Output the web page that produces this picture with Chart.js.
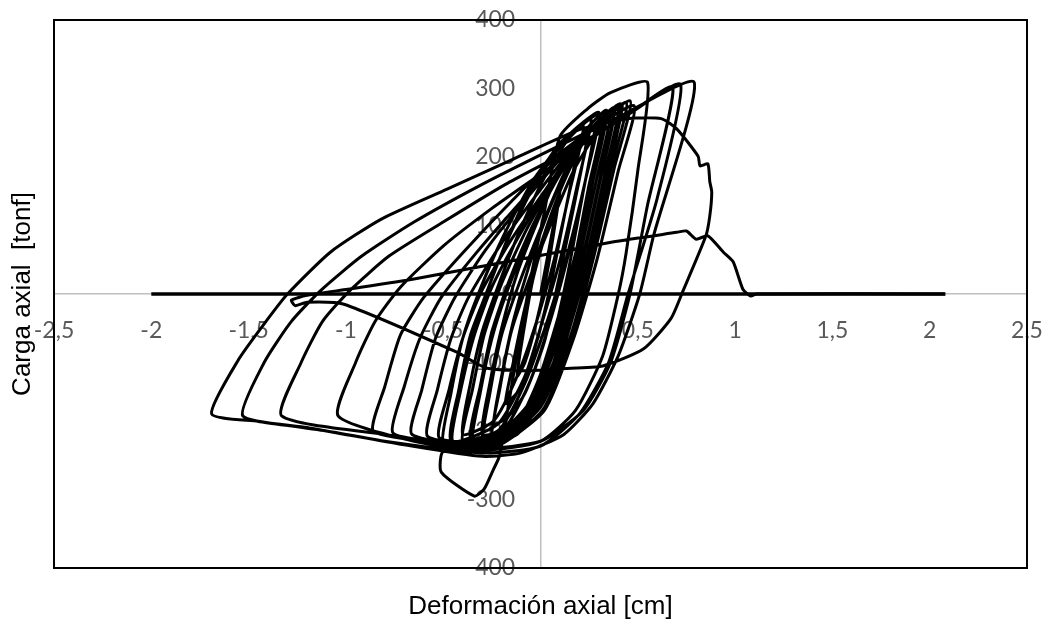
<!DOCTYPE html>
<html>
<head>
<meta charset="utf-8">
<script src="https://cdn.jsdelivr.net/npm/chart.js@4.4.1/dist/chart.umd.min.js"></script>
<style>
  html, body { margin: 0; padding: 0; background: #fff; }
</style>
</head>
<body>
<canvas id="chart" width="1047" height="627"></canvas>
<script>
// ciclos chicos (zona densa central) - deformacion [cm] / carga [tonf]
var chicosDef = [0, 0.04, 0.10, 0.04, -0.02, -0.08, -0.12,
  -0.09, -0.04, 0.04, 0.12, 0.18, 0.12, 0.05, -0.03, -0.11, -0.18,
  -0.14, -0.08, 0.0, 0.10, 0.18, 0.24, 0.18, 0.10, 0.02, -0.08, -0.17, -0.24,
  -0.20, -0.14, -0.06, 0.04, 0.14, 0.22, 0.28, 0.22, 0.14, 0.05, -0.06, -0.18, -0.30,
  -0.26, -0.20, -0.12, -0.01, 0.10, 0.22, 0.32, 0.25, 0.16, 0.06, -0.06, -0.20, -0.36,
  -0.31, -0.25, -0.16, -0.04, 0.09, 0.22, 0.34, 0.27, 0.18, 0.07, -0.05, -0.20, -0.40,
  -0.35, -0.29, -0.20, -0.07, 0.07, 0.22, 0.36, 0.29, 0.19, 0.08, -0.05, -0.22, -0.46];
var chicosCarga = [0, 60, 150, 40, -40, -100, -120,
  -60, 20, 100, 165, 200, 110, 10, -80, -140, -160,
  -100, -20, 70, 150, 200, 230, 140, 30, -70, -145, -180, -190,
  -120, -40, 40, 120, 185, 225, 245, 150, 30, -80, -160, -198, -205,
  -130, -50, 30, 110, 180, 228, 255, 160, 30, -80, -160, -200, -210,
  -135, -55, 20, 100, 170, 225, 262, 165, 40, -75, -160, -205, -215,
  -140, -60, 15, 95, 165, 225, 266, 170, 40, -75, -165, -210, -215];

// ciclos repetidos de amplitud media
var repetidosDef = [-0.42, -0.36, -0.28, -0.17, -0.04, 0.10, 0.22,
  0.15, 0.07, -0.02, -0.12, -0.24, -0.40,
  -0.36, -0.30, -0.22, -0.11, 0.02, 0.14, 0.26,
  0.19, 0.11, 0.02, -0.08, -0.22, -0.45,
  -0.41, -0.35, -0.28, -0.16, -0.02, 0.14, 0.30,
  0.23, 0.15, 0.06, -0.05, -0.18, -0.35,
  -0.31, -0.25, -0.17, -0.05, 0.08, 0.21, 0.34,
  0.27, 0.19, 0.10, -0.01, -0.14, -0.30,
  -0.26, -0.20, -0.11, 0.00, 0.12, 0.25, 0.38,
  0.31, 0.23, 0.14, 0.03, -0.10, -0.25,
  -0.21, -0.15, -0.06, 0.05, 0.17, 0.30, 0.42,
  0.35, 0.27, 0.17, 0.05, -0.12, -0.30, -0.50,
  -0.46, -0.40, -0.32, -0.19, -0.04, 0.13, 0.30,
  0.23, 0.14, 0.04, -0.08, -0.22, -0.46];
var repetidosCarga = [-140, -60, 0, 80, 160, 220, 245,
  150, 50, -40, -120, -185, -205,
  -130, -55, 10, 90, 170, 225, 255,
  160, 60, -30, -120, -190, -215,
  -140, -60, 0, 85, 165, 230, 262,
  165, 65, -30, -125, -195, -220,
  -145, -65, 5, 90, 170, 232, 268,
  170, 70, -25, -125, -200, -225,
  -145, -60, 15, 95, 175, 238, 272,
  175, 70, -30, -130, -200, -215,
  -140, -55, 20, 100, 180, 240, 276,
  180, 75, -30, -135, -205, -220, -220,
  -145, -65, 0, 85, 165, 228, 265,
  165, 60, -35, -130, -200, -215];

var crecientesDef = [-0.41, -0.34, -0.25, -0.11, 0.05, 0.22, 0.38,
  0.31, 0.21, 0.10, -0.04, -0.22, -0.52,
  -0.47, -0.40, -0.31, -0.16, 0.02, 0.20, 0.40, 0.33, 0.23, 0.12, -0.02, -0.22, -0.58,
  -0.53, -0.46, -0.37, -0.21, -0.02, 0.18, 0.41, 0.34, 0.24, 0.13, -0.01, -0.22, -0.66,
  -0.61, -0.54, -0.44, -0.28, -0.07, 0.16, 0.44, 0.36, 0.26, 0.15, 0.00, -0.24, -0.55, -0.76,
  -0.70, -0.62, -0.51, -0.33, -0.10, 0.14, 0.46, 0.38, 0.27, 0.16, 0.01, -0.24, -0.60, -0.86,
  -0.80, -0.72, -0.60, -0.40, -0.15, 0.12, 0.48, 0.40, 0.29, 0.17, 0.02, -0.24, -0.50, -0.51,
  -0.34, -0.29, -0.24, -0.21, -0.14, -0.06, 0.02, 0.10, 0.24, 0.36, 0.55];
var crecientesCarga = [-140, -60, 10, 85, 160, 228, 270,
  170, 40, -75, -165, -212, -210,
  -140, -65, 0, 75, 150, 222, 275, 175, 45, -70, -165, -215, -208,
  -140, -65, -5, 70, 145, 218, 278, 180, 50, -65, -165, -218, -205,
  -140, -65, -5, 65, 140, 215, 280, 180, 50, -65, -165, -220, -215, -202,
  -135, -65, -5, 60, 135, 210, 282, 185, 50, -65, -170, -222, -215, -200,
  -135, -60, -5, 60, 135, 210, 275, 180, 50, -65, -170, -225, -230, -260,
  -295, -285, -255, -236, -120, 10, 120, 230, 270, 294, 309];

// ciclos grandes
var grandesDef = [0.50, 0.44, 0.40, 0.32, 0.18, 0.0, -0.30, -0.65, -1.04,
  -0.95, -0.85, -0.72, -0.50, -0.25, 0.0, 0.25, 0.45, 0.68,
  0.55, 0.46, 0.36, 0.22, 0.0, -0.30, -0.80, -1.33,
  -1.23, -1.12, -0.98, -0.78, -0.50, -0.18, 0.15, 0.45, 0.72,
  0.60, 0.45, 0.35, 0.20, 0.0, -0.30, -0.80, -1.20, -1.53,
  -1.42, -1.28, -1.13, -0.92, -0.65, -0.30, 0.05, 0.40, 0.79,
  0.58, 0.51, 0.40, 0.27, 0.12, -0.10, -0.30, -0.70, -1.10, -1.45, -1.69];
var grandesCarga = [180, 60, 0, -90, -170, -215, -228, -215, -178,
  -100, -40, 10, 70, 125, 175, 225, 262, 302,
  130, 0, -100, -170, -215, -225, -205, -178,
  -100, -40, 5, 55, 105, 160, 210, 262, 306,
  140, 0, -100, -175, -222, -232, -215, -195, -178,
  -100, -40, 5, 55, 105, 160, 210, 258, 309,
  84, 0, -90, -160, -205, -232, -237, -220, -200, -186, -175];

// ultimo ciclo y degradacion
var finalDef = [-1.55, -1.40, -1.30, -1.08, -0.82, -0.48, -0.14, 0.20, 0.45, 0.62, 0.70,
  0.81, 0.82, 0.86, 0.87, 0.88, 0.87, 0.85, 0.73, 0.67, 0.53, 0.32, 0.10, -0.05, -0.28,
  -0.43, -1.01, -1.20, -1.26, -1.28, -1.20, -0.99, -0.65, 0.37, 0.70, 0.75, 0.80, 0.86,
  0.94, 0.99, 1.04, 1.08, 1.11, 2.08];
var finalCarga = [-95, -36, 0, 61, 109, 153, 197, 240, 256, 256, 241,
  201, 187, 190, 164, 149, 114, 85, 3, -36, -80, -105, -109, -112, -108,
  -85, -15, -12, -17, -9, -2, 7, 22, 76, 90, 92, 80, 85,
  61, 47, 7, -3, 0, 0];

var baseDef = [-2, 2.08];
var baseCarga = [0, 0];

function pares(xs, ys) {
    return xs.map(function (x, i) { return {x: x, y: ys[i]}; });
}
var curva = pares(
    chicosDef.concat(repetidosDef, crecientesDef, grandesDef, finalDef),
    chicosCarga.concat(repetidosCarga, crecientesCarga, grandesCarga, finalCarga));
var base = pares(baseDef, baseCarga);

var gris = '#bfbfbf';
var fuenteTicks = {family: 'Lato', size: 23};
var fuenteTitulo = {family: 'Liberation Sans', size: 26};
function coma(v) { return String(Math.round(v * 10) / 10).replace('.', ','); }
function lineaCero(ctx) { return ctx.tick && Math.abs(ctx.tick.value) < 1e-9 ? gris : 'rgba(0,0,0,0)'; }
// los ejes centrados no deben quitar espacio al area del grafico
function sinEspacio(s) {
    if (s.isHorizontal()) s.height = 0; else s.width = 0;
    s.paddingTop = 0; s.paddingBottom = 0; s.paddingLeft = 0; s.paddingRight = 0;
}

var marco = {
    id: 'marco',
    afterDraw: function (chart) {
        var a = chart.chartArea, c = chart.ctx;
        c.save();
        c.strokeStyle = '#000';
        c.lineWidth = 2;
        c.strokeRect(a.left, a.top, a.right - a.left, a.bottom - a.top);
        c.restore();
    }
};

new Chart(document.getElementById('chart'), {
    type: 'scatter',
    data: {
        datasets: [
            {data: base, showLine: true, borderColor: '#000', borderWidth: 3.5, pointRadius: 0, tension: 0},
            {data: curva, showLine: true, borderColor: '#000', borderWidth: 3, pointRadius: 0, tension: 0.2}
        ]
    },
    options: {
        responsive: false,
        animation: false,
        layout: {padding: {top: 20, right: 20, left: 0, bottom: 0}},
        plugins: {legend: {display: false}, tooltip: {enabled: false}},
        scales: {
            x: {
                type: 'linear', position: 'bottom', min: -2.5, max: 2.5,
                ticks: {display: false, stepSize: 0.5},
                grid: {drawTicks: false, color: lineaCero, lineWidth: 1.5},
                border: {display: false},
                title: {display: true, text: 'Deformación axial [cm]', color: '#000', font: fuenteTitulo, padding: {top: 0, bottom: 5}},
                afterFit: function (s) { s.height = 59; s.paddingLeft = 0; s.paddingRight = 0; }
            },
            y: {
                type: 'linear', position: 'left', min: -400, max: 400,
                ticks: {display: false, stepSize: 100},
                grid: {drawTicks: false, color: lineaCero, lineWidth: 1.5},
                border: {display: false},
                title: {display: true, text: 'Carga axial  [tonf]', color: '#000', font: fuenteTitulo, padding: {top: 7, bottom: 0}},
                afterFit: function (s) { s.width = 54; s.paddingTop = 0; s.paddingBottom = 0; }
            },
            xc: {
                axis: 'x', type: 'linear', position: {y: 0}, min: -2.5, max: 2.5, z: 1,
                ticks: {stepSize: 0.5, padding: 23, color: '#595959', font: fuenteTicks, callback: coma, autoSkip: false, maxRotation: 0},
                grid: {display: false, drawTicks: false},
                border: {display: false},
                afterFit: sinEspacio
            },
            yc: {
                axis: 'y', type: 'linear', position: {x: -0.13}, min: -400, max: 400, z: 1,
                ticks: {stepSize: 100, color: '#595959', font: fuenteTicks, autoSkip: false},
                grid: {display: false, drawTicks: false},
                border: {display: false},
                afterFit: sinEspacio
            }
        }
    },
    plugins: [marco]
});
</script>
</body>
</html>
